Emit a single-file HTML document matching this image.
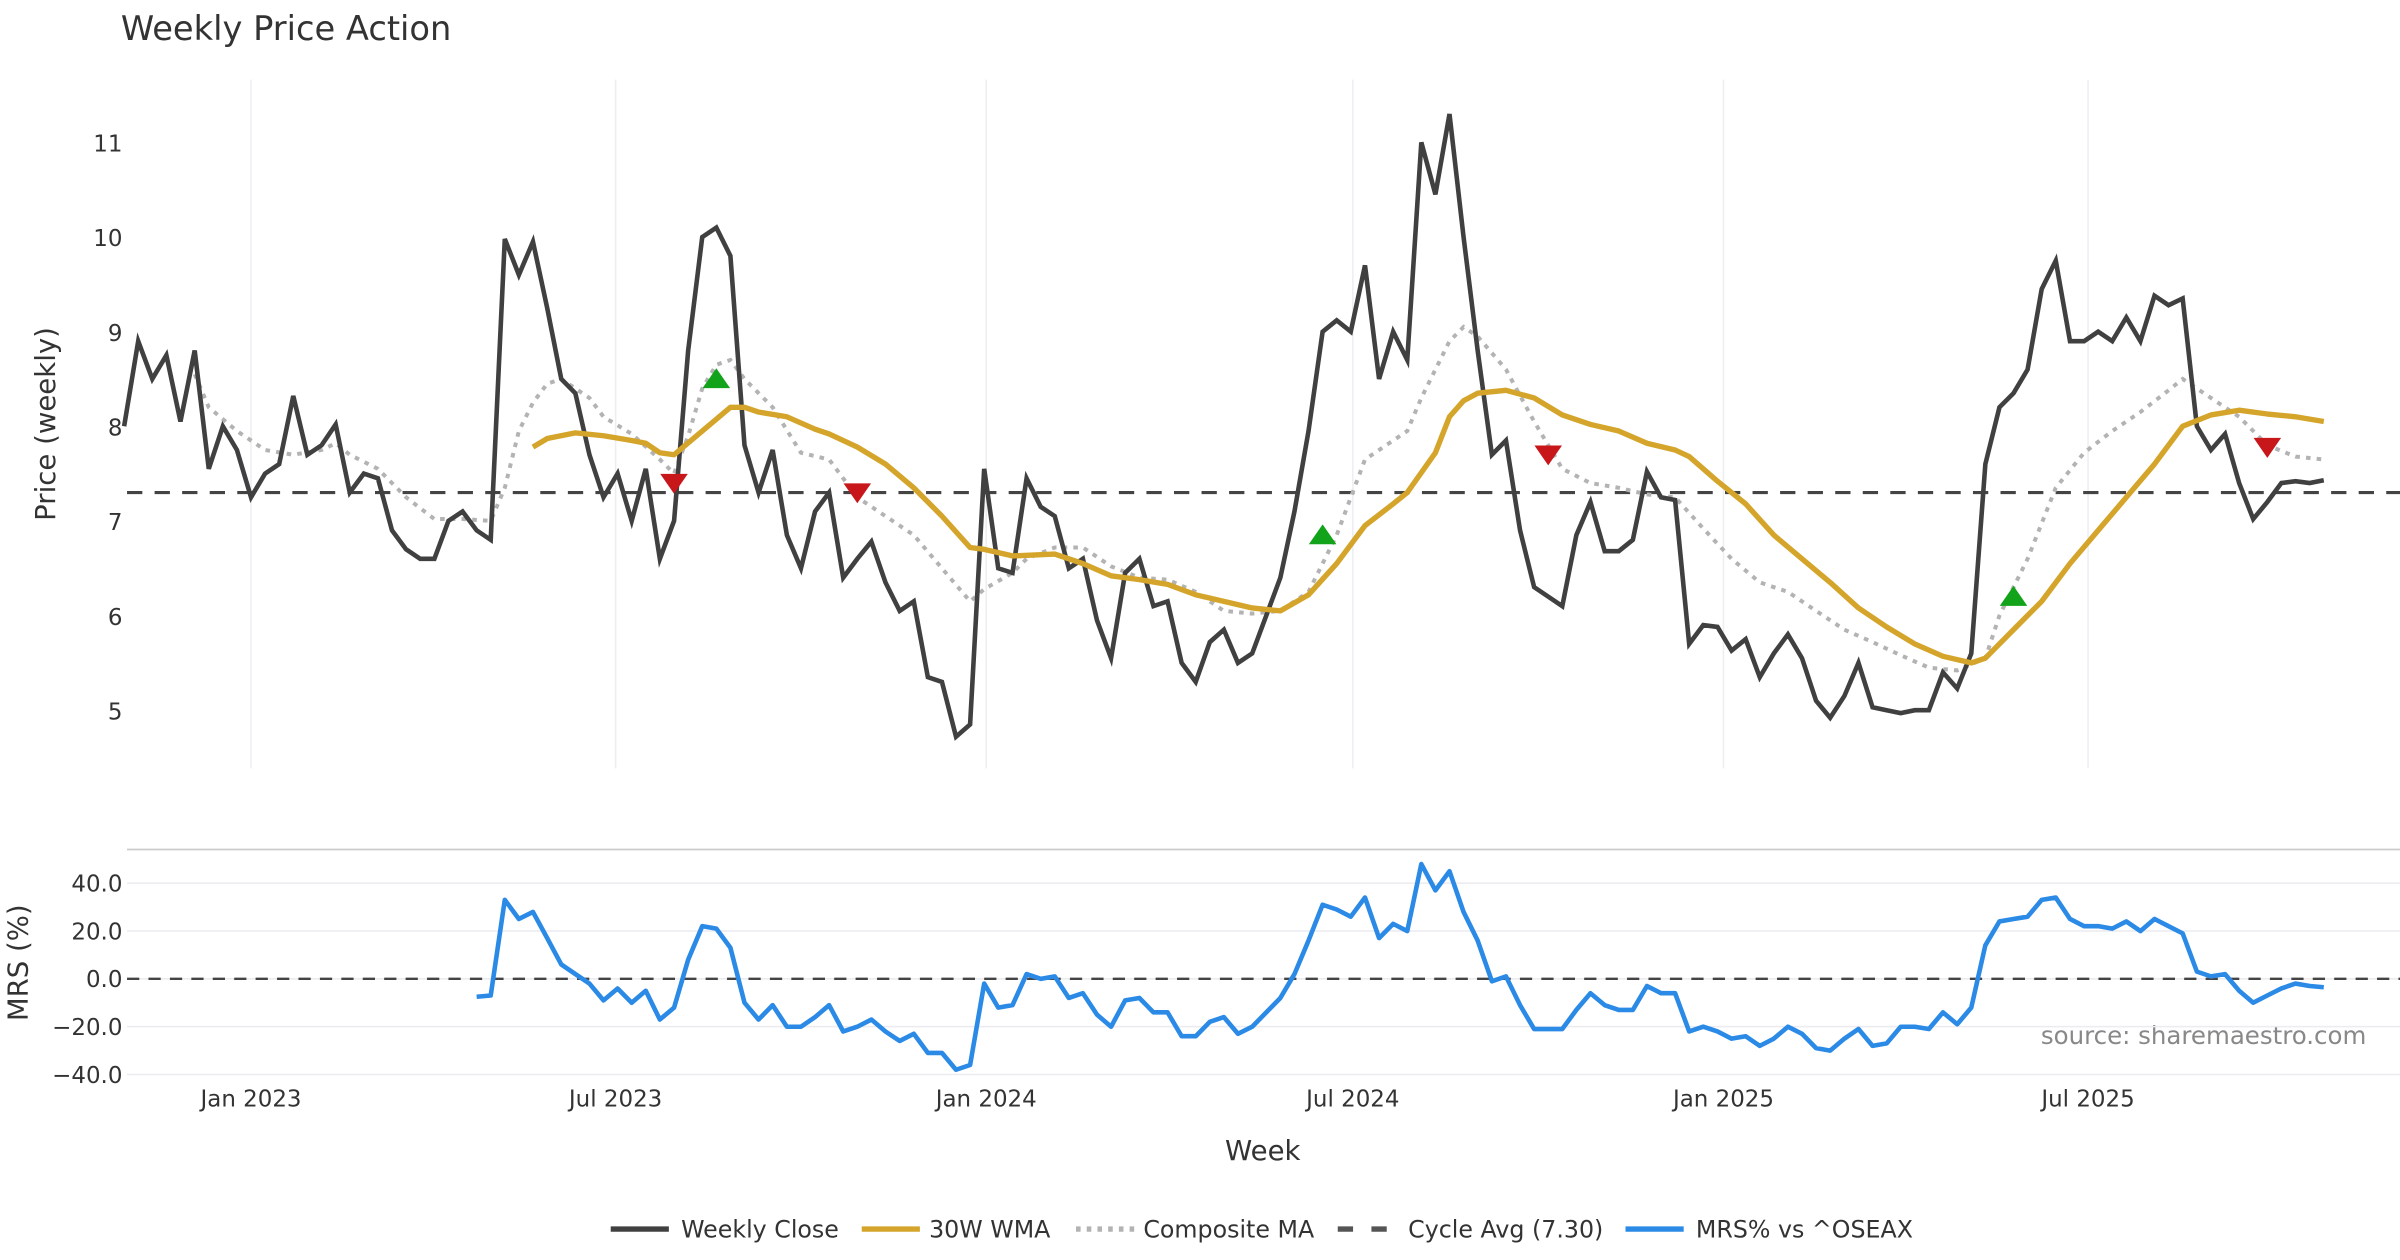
<!DOCTYPE html>
<html><head><meta charset="utf-8"><style>
html,body{margin:0;padding:0;background:#fff;}
svg{display:block;font-family:"DejaVu Sans","Liberation Sans",sans-serif;}
</style></head><body>
<svg id="chart" width="2400" height="1260" viewBox="0 0 1568 823.2" xmlns="http://www.w3.org/2000/svg">
<text x="79" y="26" font-size="22" fill="#333">Weekly Price Action</text>
<text transform="translate(36,277) rotate(-90)" text-anchor="middle" font-size="18" fill="#333">Price (weekly)</text>
<text transform="translate(18,629) rotate(-90)" text-anchor="middle" font-size="18" fill="#333">MRS (%)</text>
<text x="825" y="758" text-anchor="middle" font-size="18" fill="#333">Week</text>
<text x="1546" y="682" text-anchor="end" font-size="16" fill="#888">source: sharemaestro.com</text>
<line x1="83" y1="555" x2="1568" y2="555" stroke="#ccc" stroke-width="1.2"/>
<g id="grid"></g><g id="series"></g><g id="axes"></g>
<g id="legend"></g>
</svg>
<script>
const closeVals=[8.0,8.9,8.5,8.75,8.05,8.8,7.55,8.0,7.75,7.25,7.5,7.6,8.32,7.7,7.8,8.02,7.3,7.5,7.45,6.9,6.7,6.6,6.6,7.0,7.1,6.9,6.8,9.98,9.6,9.95,9.25,8.5,8.35,7.7,7.25,7.5,7.0,7.55,6.6,7.0,8.8,10.0,10.1,9.8,7.8,7.3,7.75,6.85,6.5,7.1,7.3,6.4,6.6,6.78,6.35,6.05,6.15,5.35,5.3,4.72,4.85,7.55,6.5,6.45,7.45,7.15,7.05,6.5,6.6,5.95,5.55,6.45,6.6,6.1,6.15,5.5,5.3,5.72,5.85,5.5,5.6,6.0,6.4,7.1,7.95,9.0,9.12,9.0,9.7,8.5,9.0,8.7,11.0,10.45,11.3,10.0,8.8,7.7,7.85,6.9,6.3,6.2,6.1,6.85,7.2,6.68,6.68,6.8,7.52,7.25,7.22,5.7,5.9,5.88,5.63,5.75,5.35,5.6,5.8,5.55,5.1,4.92,5.15,5.5,5.03,5.0,4.97,5.0,5.0,5.4,5.23,5.6,7.6,8.2,8.35,8.6,9.45,9.75,8.9,8.9,9.0,8.9,9.15,8.9,9.38,9.28,9.35,8.0,7.75,7.92,7.4,7.02,7.2,7.4,7.42,7.4,7.43];
const wmaWeeks=[29,30,32,34,36,37,38,39,41,43,44,45,47,49,50,52,54,56,58,60,61,63,66,68,70,72,74,76,78,80,82,84,86,88,90,91,93,94,95,96,98,100,102,104,106,108,110,111,113,115,117,119,121,123,125,127,129,131,132,134,136,138,140,142,144,146,148,150,152,154,156];
const wmaVals=[7.78,7.87,7.93,7.9,7.85,7.82,7.72,7.7,7.95,8.2,8.2,8.15,8.1,7.97,7.92,7.78,7.6,7.35,7.05,6.72,6.7,6.63,6.65,6.55,6.42,6.38,6.33,6.22,6.15,6.08,6.05,6.22,6.55,6.95,7.18,7.3,7.72,8.1,8.27,8.35,8.38,8.3,8.12,8.02,7.95,7.82,7.75,7.68,7.42,7.18,6.85,6.6,6.35,6.08,5.88,5.7,5.57,5.5,5.55,5.85,6.15,6.55,6.9,7.25,7.6,8.0,8.12,8.17,8.13,8.1,8.05];
const compWeeks=[5,6,8,10,12,14,15,16,18,20,22,24,26,27,28,29,30,31,33,34,36,38,39,40,41,42,43,44,46,48,50,52,54,56,58,60,61,63,64,66,68,70,72,74,76,78,80,82,84,86,88,90,91,92,94,95,96,98,100,102,104,106,108,110,112,114,116,118,120,122,124,126,128,130,132,133,135,137,139,141,143,145,146,148,150,152,154,156];
const compVals=[8.55,8.2,7.95,7.75,7.7,7.75,7.82,7.7,7.55,7.25,7.02,7.02,7.0,7.35,7.95,8.25,8.45,8.5,8.3,8.1,7.92,7.65,7.5,7.9,8.4,8.65,8.7,8.5,8.2,7.72,7.65,7.25,7.05,6.85,6.5,6.15,6.28,6.45,6.6,6.72,6.72,6.52,6.4,6.38,6.25,6.05,6.02,6.05,6.25,6.85,7.65,7.85,7.95,8.3,8.9,9.05,8.95,8.6,8.05,7.55,7.4,7.35,7.28,7.25,6.92,6.6,6.35,6.25,6.05,5.85,5.72,5.58,5.45,5.42,5.55,6.0,6.6,7.35,7.72,7.95,8.15,8.38,8.5,8.3,8.1,7.8,7.68,7.65];
const mrsStart=25;
const mrsVals=[-7.5,-7,33,25,28,17,6,2,-2,-9,-4,-10,-5,-17,-12,8,22,21,13,-10,-17,-11,-20,-20,-16,-11,-22,-20,-17,-22,-26,-23,-31,-31,-38,-36,-2,-12,-11,2,0,1,-8,-6,-15,-20,-9,-8,-14,-14,-24,-24,-18,-16,-23,-20,-14,-8,2,16,31,29,26,34,17,23,20,48,37,45,28,16,-1,1,-11,-21,-21,-21,-13,-6,-11,-13,-13,-3,-6,-6,-22,-20,-22,-25,-24,-28,-25,-20,-23,-29,-30,-25,-21,-28,-27,-20,-20,-21,-14,-19,-12,14,24,25,26,33,34,25,22,22,21,24,20,25,22,19,3,1,2,-5,-10,-7,-4,-2,-3,-3.5];
const buyWeeks=[42,85,134];
const buyVals=[8.5,6.85,6.2];
const sellWeeks=[39,52,101,152];
const sellVals=[7.4,7.3,7.7,7.78];
const cycleAvg=7.30;
const priceTicks=[5,6,7,8,9,10,11];
const mrsTicks=[-40,-20,0,20,40];
const mrsTickLabels=["\u221240.0","\u221220.0","0.0","20.0","40.0"];
const dateTickLabels=["Jan 2023","Jul 2023","Jan 2024","Jul 2024","Jan 2025","Jul 2025"];
const dateTickDates=["2023-01-01","2023-07-01","2024-01-01","2024-07-01","2025-01-01","2025-07-01"];

const NS="http://www.w3.org/2000/svg";
const START=Date.UTC(2022,9,30);
const DAY=86400000;
function xDate(ms){return 164+(ms-Date.UTC(2023,0,1))/DAY*(962/731);}
function xWeek(i){return xDate(START+i*7*DAY);}
function yP(v){return 464-(v-5)*61.83;}
function yM(v){return 639.5-v*1.5625;}
function mk(tag,attrs,parent){const e=document.createElementNS(NS,tag);for(const k in attrs)e.setAttribute(k,attrs[k]);parent.appendChild(e);return e;}
const grid=document.getElementById('grid'),ser=document.getElementById('series'),axes=document.getElementById('axes'),leg=document.getElementById('legend');

dateTickDates.forEach((d,k)=>{
  const p=d.split('-').map(Number);const x=xDate(Date.UTC(p[0],p[1]-1,p[2]));
  const g=mk('line',{x1:x,y1:52,x2:x,y2:502,stroke:'#eceef2','stroke-width':1},grid);
  
  
  const t=mk('text',{x:x,y:723,'text-anchor':'middle','font-size':15,fill:'#333'},axes);
  t.textContent=dateTickLabels[k];
  
  
});
priceTicks.forEach(v=>{
  const t=mk('text',{x:80,y:yP(v)+6,'text-anchor':'end','font-size':15,fill:'#333'},axes);
  t.textContent=String(v);
  
  
});
mrsTicks.forEach((v,k)=>{
  const g=mk('line',{x1:83,y1:yM(v),x2:1568,y2:yM(v),stroke:'#ececf0','stroke-width':1},grid);
  
  
  const t=mk('text',{x:80,y:yM(v)+5.5,'text-anchor':'end','font-size':15,fill:'#333'},axes);
  t.textContent=mrsTickLabels[k];
  
  
});
const cyc=mk('line',{x1:83,y1:yP(cycleAvg),x2:1568,y2:yP(cycleAvg),stroke:'#444','stroke-width':2,'stroke-dasharray':'10,8'},ser);


const zl=mk('line',{x1:83,y1:yM(0),x2:1568,y2:yM(0),stroke:'#444','stroke-width':1.5,'stroke-dasharray':'8,6'},ser);



function pts(weeks,vals,yf){return vals.map((v,k)=>xWeek(weeks[k]).toFixed(1)+','+yf(v).toFixed(1)).join(' ');}
const cw=closeVals.map((v,i)=>i);
const comp=mk('polyline',{points:pts(compWeeks,compVals,yP),fill:'none',stroke:'#b3b3b3','stroke-width':2.6,'stroke-dasharray':'3,4'},ser);


const cl=mk('polyline',{points:pts(cw,closeVals,yP),fill:'none',stroke:'#404040','stroke-width':3,'stroke-linejoin':'miter'},ser);


const wm=mk('polyline',{points:pts(wmaWeeks,wmaVals,yP),fill:'none',stroke:'#d4a52a','stroke-width':3.5,'stroke-linejoin':'round'},ser);


const mw=mrsVals.map((v,k)=>mrsStart+k);
const ml=mk('polyline',{points:pts(mw,mrsVals,yM),fill:'none',stroke:'#2b8ae6','stroke-width':3,'stroke-linejoin':'round'},ser);


buyWeeks.forEach((w,k)=>{const x=xWeek(w),y=yP(buyVals[k]);
  const p=mk('polygon',{points:`${x-9},${y+6} ${x+9},${y+6} ${x},${y-7}`,fill:'#13a31a'},ser);
  
  });
sellWeeks.forEach((w,k)=>{const x=xWeek(w),y=yP(sellVals[k]);
  const p=mk('polygon',{points:`${x-9},${y-6} ${x+9},${y-6} ${x},${y+7}`,fill:'#c8171a'},ser);
  
  });

const legItems=[["Weekly Close","#404040",'',399,445],["30W WMA","#d4a52a",'',563,607],["Composite MA","#b3b3b3",'3,4',703,747],["Cycle Avg (7.30)","#555",'10,12',874,920],["MRS% vs ^OSEAX","#2b8ae6",'',1062,1108]];
legItems.forEach(it=>{
  const l=mk('line',{x1:it[3],y1:803,x2:it[3]+38,y2:803,stroke:it[1],'stroke-width':3.5,'stroke-dasharray':it[2]||'none'},leg);
  
  
  const t=mk('text',{x:it[4],y:808.5,'font-size':15.5,fill:'#333'},leg);
  t.textContent=it[0];
  
  
});
</script>
</body></html>
